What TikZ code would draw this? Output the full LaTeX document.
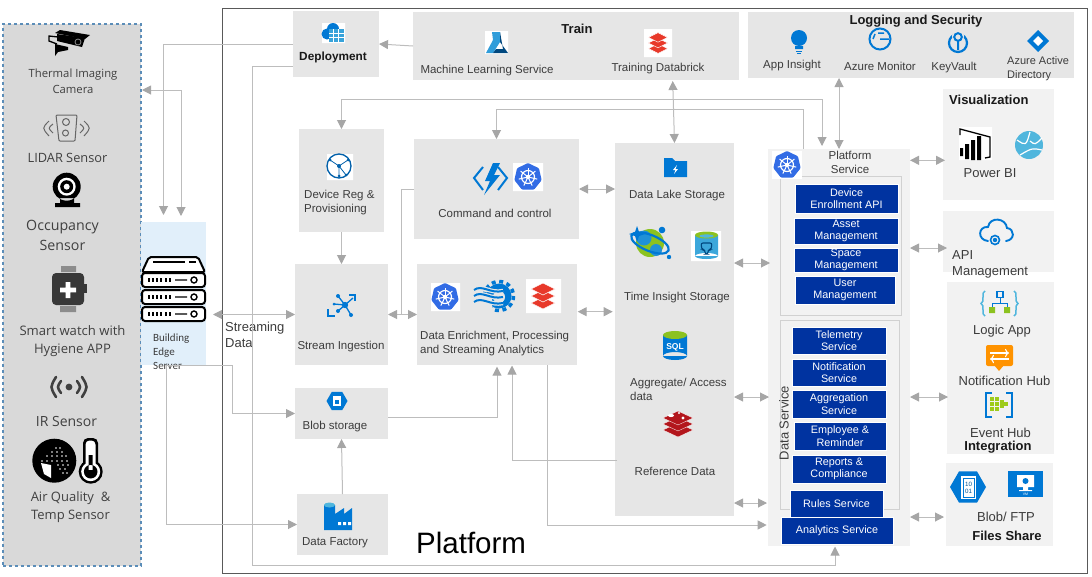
\documentclass[tikz,border=0pt]{standalone}
\usepackage{fontspec}
\setmainfont{Liberation Sans}
\newfontfamily\sensorfont{Open Sans}
\newfontfamily\edgefont{Carlito}
\usetikzlibrary{arrows.meta,shapes.geometric}
\definecolor{panelgray}{HTML}{E6E6E6}
\definecolor{lightpanel}{HTML}{F2F2F2}
\definecolor{sensorgray}{HTML}{D9D9D9}
\definecolor{edgeblue}{HTML}{E1EFFA}
\definecolor{dashblue}{HTML}{5B8DB8}
\definecolor{servblue}{HTML}{0033A0}
\definecolor{linegray}{HTML}{BDBDBD}
\definecolor{tipgray}{HTML}{A6A6A6}
\definecolor{textgray}{HTML}{3C3C3C}
\definecolor{azure}{HTML}{0078D4}
\definecolor{skyblue}{HTML}{50B6DD}
\definecolor{kubeblue}{HTML}{326CE5}
\definecolor{brickred}{HTML}{E8392A}
\definecolor{redisred}{HTML}{B3161C}
\definecolor{leafgreen}{HTML}{8CC220}
\tikzset{
  box/.style={anchor=north west,inner sep=0,outer sep=0,fill=panelgray},
  lightbox/.style={box,fill=lightpanel},
  servbox/.style={box,fill=servblue,draw=white,line width=.4pt,text=white,align=center,
    font=\fontsize{10.8}{12.6}\selectfont},
  lab/.style={inner sep=0,yshift=-1.5pt,text=textgray,align=center,font=\fontsize{11.5}{14}\selectfont},
  biglab/.style={lab,font=\fontsize{13}{16}\selectfont},
  boldlab/.style={inner sep=0,yshift=-1.5pt,text=black!90,align=center,font=\fontsize{13}{15}\bfseries\selectfont},
  senslab/.style={inner sep=0,yshift=-1pt,text=black!75,align=center},
  pipe/.style={draw=linegray,line width=1pt},
  flow/.style={pipe,-{Triangle[length=9pt,width=9pt,color=tipgray]}},
  twoway/.style={pipe,{Triangle[length=9pt,width=9pt,color=tipgray]}-{Triangle[length=9pt,width=9pt,color=tipgray]}},
  kube/.pic={
    \fill[kubeblue,rounded corners=1pt] (-90:14) \foreach \a in {1,...,6}{ -- (-90+\a*51.43:14)} -- cycle;
    \draw[white,line width=1.2pt] (0,0) circle (6.5);
    \foreach \a in {0,51.43,...,310}{\draw[white,line width=1pt] (0,0) -- (\a-90:9.5);}
    \fill[white] (0,0) circle (2.2);
  },
  bricks/.pic={
    \foreach \d in {7,0,-7}{\fill[brickred,draw=white,line width=.5pt] (-12,\d) -- (0,\d-6) -- (12,\d) -- (0,\d+6) -- cycle;}
  }
}
\begin{document}
\begin{tikzpicture}[x=1pt,y=-1pt]
  \useasboundingbox (0,0) rectangle (1092,576);

  % Sensor panel, edge server and platform frame
  \node[box,fill=sensorgray,draw=dashblue,dashed,line width=1.3pt,minimum width=138pt,minimum height=542pt] (sensors) at (3,24) {};
  \node[box,fill=edgeblue,minimum width=65pt,minimum height=143pt] (edge) at (141,222) {};
  \node[box,fill=none,draw=black!65,line width=1pt,minimum width=865pt,minimum height=565pt] (frame) at (222,8) {};

  % Grey boxes
  \foreach \name/\x/\y/\w/\h in {deploy/293/11/86/66,train/413/12/326/68,logging/748/12/326/66,
    devreg/299/129/85/103,stream/295/264/93/101,blob/295/388/93/51,factory/297/494/91/61,
    command/414/139/165/100,enrich/417/264/160/101,lake/615/143/119/373}
  \node[box,minimum width=\w pt,minimum height=\h pt] (\name) at (\x,\y) {};

  % Pale boxes on the right
  \foreach \name/\x/\y/\w/\h in {service/768/149/142/397,vis/943/89/111/111,api/943/211/111/61,
    integ/947/282/107/172,files/946/463/107/83}
  \node[lightbox,minimum width=\w pt,minimum height=\h pt] (\name) at (\x,\y) {};

  % Inner frames of the platform service
  \node[box,fill=none,draw=black!18,line width=1pt,minimum width=121pt,minimum height=139pt] (platbox) at (780,176) {};
  \node[box,fill=none,draw=black!18,line width=1pt,minimum width=119pt,minimum height=189pt] (databox) at (780,320) {};

  % Dark blue services
  \foreach \name/\x/\y/\w/\h/\txt in {enroll/795/184/103/29/{Device\\Enrollment API},
    asset/794/218/104/26/{Asset\\Management},space/794/248/104/24/{Space\\Management},
    user/795/276/100/28/{User\\Management},telemetry/792/327/94/27/{Telemetry\\Service},
    notify/792/359/94/27/{Notification\\Service},aggreg/792/390/94/28/{Aggregation\\Service},
    employee/794/422/92/28/{Employee \&\\Reminder},reports/792/455/94/28/{Reports \&\\Compliance},
    rules/790/490/93/27/{Rules Service},analytics/781/517/112/27/{Analytics Service}}
  \node[servbox,minimum width=\w pt,minimum height=\h pt] (\name) at (\x,\y) {\txt};

  % White squares behind icons
  \fill[white] (322,23) rectangle (345,43) (485,31) rectangle (508,54) (644,29) rectangle (672,57);
  \fill[white] (327,154) rectangle (353,180) (513,163) rectangle (543,191) (431,283) rectangle (460,311);
  \fill[white] (526,279) rectangle (561,313) (691,231) rectangle (721,261) (959,127) rectangle (992,160);
  \fill[white] (772,151) rectangle (802,179);

  % Sensor icons
  \draw[black,line width=1.3pt] (58,37) -- (49,36) -- (49,41) -- (57,44);
  \fill[black] (55,33) -- (60,30) -- (90,35) -- (85,39) -- cycle;
  \fill[black] (57,34) -- (85,38) -- (82,47) -- (57,41) -- cycle;
  \draw[black!45,line width=.8pt] (78,42) circle (3);
  \fill[black] (55,44) -- (68,47) -- (68,50) -- (58,52) -- (55,56) -- cycle;
  \draw[black!60,line width=1pt,rounded corners=1pt] (56,115) -- (77,115) -- (75,141) -- (59,141) -- cycle (66,122) circle (3.5) (65.5,133) circle (3);
  \draw[black!60,line width=1pt] (49,121) .. controls (42,128) .. (49,136) (53,124) .. controls (48,128) .. (53,133)
    (84,121) .. controls (91,128) .. (84,136) (80,124) .. controls (85,128) .. (80,133);
  \fill[black] (66.7,186.7) circle (14) (60,198) rectangle (74,204) (55,203) rectangle (80,207);
  \fill[white] (66.7,186.7) circle (9);
  \fill[black] (66.7,186.7) circle (6.5);
  \fill[white] (66.7,186.7) circle (3);
  \fill[black!45] (61,266) rectangle (76,272) (60,306) rectangle (76,312);
  \fill[black!78,rounded corners=4pt] (52,273) rectangle (84,305);
  \fill[black!78] (84,284) rectangle (87,293);
  \fill[white] (65.7,282) rectangle (70.3,298) (60,287.7) rectangle (76,292.3);
  \fill[black!75] (69,387) circle (3.4);
  \draw[black!75,line width=2.6pt,line cap=round] (61,381) .. controls (57,387) .. (61,393) (77,381) .. controls (81,387) .. (77,393)
    (56,377) .. controls (50,387) .. (56,397) (82,377) .. controls (88,387) .. (82,397);
  \fill[black] (54.3,460.7) circle (22);
  \foreach \x/\y in {56/448,60/448,52/452,57/452,62/452,47/456,52/456,57/456,62/456,66/456,42/461,47/461,52/461,57/461,62/461,67/461,58/465,63/465,68/465,60/469,65/469,63/473,67/473}
  \fill[white] (\x,\y) circle (.9);
  \fill[white] (41,463) -- (51,465) -- (51,478) -- (44,474) -- cycle;
  \fill[black,rounded corners=5pt] (83,438) rectangle (98,475);
  \fill[black] (90.7,471.7) circle (12);
  \fill[white,rounded corners=4pt] (85.5,440.5) rectangle (95.5,475);
  \fill[white] (90.7,471.7) circle (9.5);
  \fill[black] (90.7,471.7) circle (6.8) (88.7,455) rectangle (92.7,470);

  % Server icon
  \draw[black,line width=2pt,fill=white,rounded corners=2pt] (149,257) -- (198,257) -- (205,272) -- (142,272) -- cycle;
  \draw[black,line width=1.5pt] (153,262) -- (185,262) (189,262) -- (196,262);
  \foreach \y in {273,290,307}{
    \draw[black,line width=2pt,fill=white,rounded corners=3pt] (142,\y) rectangle (205,\y+14);
    \foreach \x in {149,153,157,161,166,170}{\draw[black,line width=1.2pt] (\x,\y+5) -- (\x,\y+9);}
    \draw[black,line width=1.4pt] (175,\y+7) -- (187,\y+7) (194,\y+7) circle (3);
  }

  % Azure icons on top row
  \fill[azure] (327,34) circle (5.5) (333,29) circle (6) (339,34) circle (5);
  \fill[skyblue!70!azure] (329,29) rectangle (344,42);
  \draw[white,line width=.6pt] (329,33) -- (344,33) (329,37) -- (344,37) (333,29) -- (333,42) (338,29) -- (338,42);
  \fill[skyblue!60!azure] (492,32) -- (500,32) -- (500,42) -- (493,53) -- (486,53) -- (493,40) -- cycle;
  \fill[azure!60!black] (500,32) -- (500,42) -- (508,53) -- (493,53) -- (496,49) -- (503,49) -- cycle;
  \pic[scale=.8] at (658,43) {bricks};
  \fill[azure] (799,38) circle (8) (795,46) rectangle (803,49);
  \draw[azure,line width=1pt] (796,51) -- (802,51) (797,53) -- (801,53);
  \draw[azure,line width=2pt] (880,39) circle (10.5);
  \draw[azure,line width=1.5pt] (880,39) -- (889,39) (873,39) -- (875,34) (878,33) -- (884,33);
  \draw[azure,line width=2.2pt] (958,43) circle (9);
  \fill[panelgray] (958,36) circle (6);
  \draw[azure,line width=2pt] (958,37) circle (3.8) (958,41) -- (958,50);
  \fill[azure] (1038,30) -- (1049,41) -- (1038,52) -- (1027,41) -- cycle;
  \fill[white] (1038,36) -- (1043,41) -- (1038,46) -- (1033,41) -- cycle;

  % Middle column icons
  \draw[azure!80!black,line width=1.3pt] (339,166) circle (12);
  \draw[azure!80!black,line width=.8pt] (339,166) -- (330,160) (339,166) -- (348,160) (339,166) -- (346,175) (339,166) -- (339,176);
  \fill[azure!80!black] (339,166) circle (2) (330,160) circle (1.5) (348,160) circle (1.5) (346,175) circle (1.5) (339,176) circle (1.5);
  \draw[azure,line width=1.3pt] (345,305) -- (338,296) (345,305) -- (353,298) (345,305) -- (338,311) (345,305) -- (351,315) (345,305) -- (334,304);
  \fill[azure] (345,305) circle (3.2) (338,296) circle (2) (338,311) circle (2) (351,315) circle (2) (334,304) circle (1.5);
  \draw[azure,line width=2pt] (349,295) -- (355,295) -- (355,301) (328,309) -- (328,316) -- (335,316);
  \node[regular polygon,regular polygon sides=6,fill=azure,inner sep=0,minimum size=21pt] (blobhex) at (337,401) {};
  \fill[white] (333,396) rectangle (341,406);
  \fill[azure] (335,400) rectangle (339,404);
  \fill[azure] (324,505) rectangle (335,530) (335,514) -- (344,508) -- (344,514) -- (352,508) -- (352,530) -- (335,530) -- cycle;
  \fill[skyblue] (329.5,505) ellipse (5.5 and 2.5);
  \fill[white] (338,522) rectangle (341,525) (343,522) rectangle (346,525) (348,522) rectangle (351,525);
  \draw[azure,line width=2pt] (483,167) -- (474,178) -- (483,190) (498,167) -- (507,178) -- (498,190);
  \fill[azure] (493,163) -- (485,181) -- (490,181) -- (484,195) -- (500,175) -- (494,175) -- (500,163) -- cycle;
  \pic at (528,177) {kube};
  \pic at (445,297) {kube};
  \fill[azure] (499,296) circle (12.5);
  \draw[azure,line width=3.5pt,dash pattern=on 4pt off 3.6pt] (499,296) circle (14.5);
  \fill[panelgray] (499,297) circle (6);
  \fill[panelgray] (470,297) rectangle (492,318);
  \foreach \y in {289,295,301}{
    \draw[panelgray,line width=4.4pt] (474,\y+1) .. controls (482,\y-5) and (490,\y+5) .. (503,\y+2);
    \draw[azure,line width=2pt] (474,\y+1) .. controls (482,\y-5) and (490,\y+5) .. (503,\y+2);
  }
  \pic at (543,296) {bricks};

  % Storage column icons
  \fill[azure] (664,158) -- (672,158) -- (675,161) -- (687,161) -- (687,177) -- (664,177) -- cycle;
  \fill[white] (677,165) -- (673,170) -- (675.5,170) -- (674,174) -- (678,169) -- (675.5,169) -- cycle;
  \fill[leafgreen] (650,243) circle (14);
  \fill[skyblue!40!azure] (644,238) circle (7.5) (656,250) circle (6);
  \draw[azure,line width=2.2pt,rotate around={-22:(650,243)}] (650,243) ellipse (20 and 8);
  \fill[azure] (637,226) -- (639,232) -- (645,234) -- (639,236) -- (637,242) -- (635,236) -- (629,234) -- (635,232) -- cycle;
  \fill[azure] (662,230) circle (3.3) (669,257) circle (2.2);
  \fill[skyblue!75!azure] (695,235) rectangle (718,256) (706.5,256) ellipse (11.5 and 3);
  \fill[leafgreen] (706.5,235) ellipse (11.5 and 3.5);
  \fill[skyblue] (706.5,236) ellipse (7 and 1.6);
  \draw[azure!60!black,line width=1.1pt,rounded corners=2pt] (701,243) -- (712,243) -- (711,250) -- (708,250) -- (708,254) -- (705,254) -- (705,250) -- (702,250) -- cycle;
  \fill[azure] (663,335) rectangle (687,356) (675,356) ellipse (12 and 4);
  \fill[leafgreen] (675,335) ellipse (12 and 4);
  \node[inner sep=0,text=white,font=\fontsize{8.5}{9}\bfseries\selectfont] (sqltxt) at (675,347) {SQL};
  \foreach \y in {430,424,418}{
    \fill[redisred,draw=white,line width=.3pt] (663,\y) -- (678,\y-7) -- (693,\y) -- (678,\y+7) -- cycle;}
  \fill[white] (671,415.5) ellipse (3 and 1.6) (683,418) circle (1.6) (679,413) circle (1.2);

  % Visualization and integration icons
  \draw[black,line width=1.3pt] (960,135) -- (960,129) -- (990,137) -- (990,157) -- (985,158);
  \fill[black] (960,148) rectangle (963,156) (965,144) rectangle (969,159) (971,140) rectangle (975,160) (977,136) rectangle (981,160);
  \fill[skyblue] (1029,145) circle (14);
  \draw[white,line width=1.2pt] (1017,140) .. controls (1026,146) .. (1030,132) (1020,155) .. controls (1032,148) .. (1042,150) (1030,141) .. controls (1035,145) .. (1042,138);
  \draw[azure,line width=1.9pt,line cap=round] (988,241) .. controls (977,240) and (978,226) .. (988,227) .. controls (990,216) and (1006,218) .. (1007,228) .. controls (1015,229) and (1015,240) .. (1006,241);
  \draw[azure,line width=1.6pt] (995,240) circle (4.5);
  \fill[azure] (995,240) circle (2.2);
  \draw[skyblue,line width=1.5pt] (985,291) .. controls (981,291) and (985,303) .. (981,303.5) .. controls (985,304) and (981,316) .. (985,316);
  \draw[skyblue,line width=1.5pt] (1014,291) .. controls (1018,291) and (1014,303) .. (1018,303.5) .. controls (1014,304) and (1018,316) .. (1014,316);
  \draw[azure,line width=1pt] (1000,298) -- (1000,303) -| (992,308) (1000,303) -| (1007,308);
  \draw[azure,line width=1.2pt] (997,291.5) rectangle (1003,297.5);
  \fill[leafgreen] (989,307) rectangle (995,313) (1004,307) rectangle (1010,313);
  \fill[orange!85!yellow,rounded corners=2pt] (986,345) rectangle (1013,366);
  \fill[orange!85!yellow] (994,365) -- (1004,365) -- (999,371) -- cycle;
  \draw[white,line width=1.1pt,->] (990,353) -- (1009,353);
  \draw[white,line width=1.1pt,->] (1009,359) -- (990,359);
  \draw[azure,line width=2pt] (992,393) -- (986,393) -- (986,417) -- (992,417) (1006,393) -- (1012,393) -- (1012,417) -- (1006,417);
  \foreach \x/\y in {992/399,992/404,992/409,997/399,997/404,997/409,1002/402,1002/406,1006/404}
  \fill[leafgreen!85!yellow] (\x-1.6,\y-1.6) rectangle (\x+1.6,\y+1.6);
  \node[regular polygon,regular polygon sides=6,fill=azure,inner sep=0,minimum size=36pt] (ftphex) at (968,487) {};
  \fill[white] (961,476) rectangle (976,499);
  \fill[azure] (962.5,477.5) rectangle (974.5,497.5);
  \fill[white] (963.5,478.5) rectangle (973.5,496.5);
  \node[inner sep=0,text=azure!70!black,align=center,font=\fontsize{6.2}{6.8}\selectfont] (ftpbits) at (968.5,487.5) {10\\01};
  \fill[azure] (1008,471) rectangle (1043,497);
  \fill[white] (1017,475) rectangle (1034,487) (1023,487) rectangle (1028,490) (1019,490) rectangle (1032,491);
  \fill[azure] (1025.5,481) circle (3);
  \node[inner sep=0,text=white,font=\fontsize{3.5}{4}\selectfont] (vmtxt) at (1025.5,494) {VM};

  \pic at (787,165) {kube};

  % Sensor labels
  \node[senslab,font=\sensorfont\fontsize{11.3}{16}\selectfont] (thermal) at (73,80) {Thermal Imaging\\Camera};
  \node[senslab,font=\sensorfont\fontsize{12.8}{16}\selectfont] (lidar) at (67.5,157) {LIDAR Sensor};
  \node[senslab,font=\sensorfont\fontsize{14.2}{20}\selectfont] (occup) at (62.5,234) {Occupancy\\Sensor};
  \node[senslab,font=\sensorfont\fontsize{13.1}{18}\selectfont] (watch) at (72.5,340) {Smart watch with\\Hygiene APP};
  \node[senslab,font=\sensorfont\fontsize{14}{16}\selectfont] (irsens) at (66.5,420) {IR Sensor};
  \node[senslab,font=\sensorfont\fontsize{13}{18}\selectfont] (airq) at (70.5,506) {Air Quality~~\&\\Temp Sensor};
  \node[inner sep=0,anchor=west,align=left,text=textgray,font=\edgefont\fontsize{11}{14}\selectfont] (edgelab) at (153,352) {Building\\Edge\\Server};

  % Labels of the boxes
  \foreach \name/\x/\y/\txt in {mllab/487/69/{Machine Learning Service},brlab/658/67.5/{Training Databrick},
    applab/792/64/{App Insight},monlab/880/65/{Azure Monitor},keylab/954/66/{KeyVault},
    streamlab/341/345/{Stream Ingestion},blobstlab/335/425/{Blob storage},factlab/335/541/{Data Factory},
    cmdlab/495/212/{Command and control},lakelab/677/194/{Data Lake Storage},timelab/677/296/{Time Insight Storage},
    reflab/675/470/{Reference Data},svclab/850/161/{Platform\\Service}}
  \node[lab] (\name) at (\x,\y) {\txt};
  \foreach \name/\x/\y/\txt in {bilab/990/172/{Power BI},logiclab/1002/330/{Logic App},
    notiflab/1004.5/379/{Notification Hub},eventlab/1000.5/431/{Event Hub},ftplab/1006/515/{Blob/ FTP}}
  \node[biglab] (\name) at (\x,\y) {\txt};
  \node[lab,anchor=west,align=left,font=\fontsize{11}{14}\selectfont] (adlab) at (1007,67) {Azure Active\\Directory};
  \node[lab,anchor=west,align=left] (reglab) at (304,201) {Device Reg \&\\Provisioning};
  \node[lab,anchor=west,align=left] (enrlab) at (420,342.5) {Data Enrichment, Processing\\and Streaming Analytics};
  \node[lab,anchor=west,align=left] (agglab) at (630,388) {Aggregate/ Access\\data};
  \node[biglab,anchor=west,align=left] (apilab) at (952,263) {API\\Management};
  \node[biglab,anchor=west,align=left] (streamdata) at (225,333) {Streaming\\Data};
  \node[inner sep=0,rotate=90,text=textgray,font=\fontsize{13}{16}\selectfont] (datasvc) at (784,423) {Data Service};
  \node[inner sep=0,anchor=west,font=\fontsize{29.5}{32}\selectfont] (bigtitle) at (416,543) {Platform};

  % Bold titles
  \node[boldlab,font=\fontsize{11.8}{14}\bfseries\selectfont] (deplab) at (333,56) {Deployment};
  \node[boldlab] (trainlab) at (577,27) {Train};
  \node[boldlab] (loglab) at (916,20) {Logging and Security};
  \node[boldlab,anchor=west] (vislab) at (949,98) {Visualization};
  \node[boldlab] (intlab) at (998,446) {Integration};
  \node[boldlab] (fileslab) at (1007,534) {Files Share};

  % Free ends of connectors
  \coordinate (edgeA) at (163.5,215);
  \coordinate (edgeB) at (181,216);
  \coordinate (sensport) at (142,90);
  \coordinate (edgeport) at (213,314.5);
  \coordinate (edgeout) at (166.5,365);
  \coordinate (edgeknee) at (232.7,365);
  \coordinate (bus) at (252,565.5);
  \coordinate (anain) at (835,546.5);
  \coordinate (topA) at (822,99);
  \coordinate (topB) at (803,109);
  \coordinate (platin) at (822,146);
  \coordinate (brickport) at (672.7,81);
  \coordinate (cmddrop) at (401.5,314.5);
  \coordinate (enrA) at (497,366.7);
  \coordinate (enrB) at (512,365.5);
  \coordinate (enrC) at (577.7,311.7);
  \coordinate (enrD) at (612.7,311.7);
  \coordinate (enrout) at (547.3,365);
  \coordinate (anawest) at (766.7,525);
  \coordinate (lakeout) at (617,460.7);
  \coordinate (svcA) at (770,263);
  \coordinate (svcB) at (769,397);
  \coordinate (svcC) at (767,503);
  \coordinate (visport) at (945,160.3);
  \coordinate (apiport) at (947,248);
  \coordinate (intport) at (948,397);
  \coordinate (filesport) at (944,517);

  % Connectors
  \draw[flow] (deploy.west) -| (edgeA);
  \draw[twoway] (sensport) -| (edgeB);
  \draw[flow] (train.west) -- (deploy.east);
  \draw[flow] ([yshift=-22pt]deploy.west) -| (bus) -| (anain);
  \draw[twoway] (devreg.north) |- (topA) -- (platin);
  \draw[flow] (service.north -| topB) -- (topB) -| (command.north);
  \draw[twoway] (service.north) -- (logging.south -| service.north);
  \draw[twoway] (brickport) -- (lake.north);
  \draw[twoway] (command.east) -- (lake.west |- command.east);
  \draw[twoway] (enrC) -- (enrD);
  \draw[twoway] (stream.east) -- (enrich.west);
  \draw[pipe] (command.west) -| (cmddrop);
  \draw[flow] (devreg.south) -- (stream.north);
  \draw[twoway] (edgeport) -- (stream.west);
  \draw[flow] (edgeout) -- (edgeknee) |- (blob.west);
  \draw[flow] (edgeout) |- (factory.west);
  \draw[flow] (factory.north) -- (blob.south);
  \draw[flow] ([yshift=-4pt]blob.east) -| (enrA);
  \draw[flow] (lakeout) -| (enrB);
  \draw[flow] (enrout) |- (anawest);
  \draw[twoway] (lake.east |- svcA) -- (svcA);
  \draw[twoway] (lake.east |- svcB) -- (svcB);
  \draw[twoway] (lake.east |- svcC) -- (svcC);
  \draw[twoway] (service.east |- visport) -- (visport);
  \draw[twoway] (service.east |- apiport) -- (apiport);
  \draw[twoway] (service.east |- intport) -- (intport);
  \draw[twoway] (service.east |- filesport) -- (filesport);
\end{tikzpicture}
\end{document}
